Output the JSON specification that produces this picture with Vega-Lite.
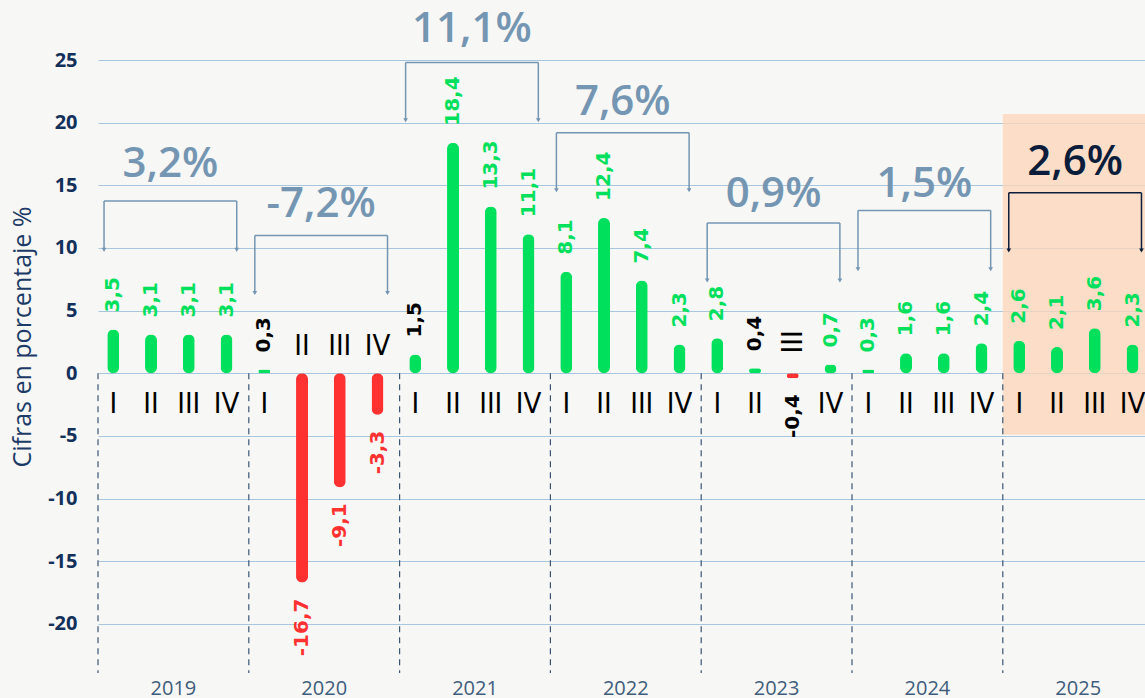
{
  "$schema": "https://vega.github.io/schema/vega-lite/v6.json",
  "width": 1047,
  "height": 673,
  "autosize": {"type": "none"},
  "padding": {"left": 98, "top": 0, "right": 0, "bottom": 25},
  "background": "#f7f7f5",
  "config": {
    "view": {"stroke": null},
    "locale": {"number": {"decimal": ",", "thousands": ".", "grouping": [3], "currency": ["", " €"], "minus": "-"}},
    "axisY": {"grid": true, "gridColor": "#a9c6df", "gridWidth": 1.2, "ticks": false, "domain": false, "labelFont": "Open Sans", "labelFontWeight": "bold", "labelFontSize": 20, "labelColor": "#12305a", "labelPadding": 21, "titleFont": "Open Sans", "titleFontSize": 25, "titleFontWeight": "normal", "titleColor": "#1c3b66", "titlePadding": 12, "tickCount": 10},
    "axisX": {"grid": false, "ticks": false, "domain": false, "labelFont": "Open Sans", "labelFontSize": 20, "labelColor": "#3f5d7c", "labelPadding": 5, "labelAngle": 0}
  },
  "datasets": {
    "quarters": [
      {"year": "2019", "qn": "I", "q": "2019-I", "value": 3.5},
      {"year": "2019", "qn": "II", "q": "2019-II", "value": 3.1},
      {"year": "2019", "qn": "III", "q": "2019-III", "value": 3.1},
      {"year": "2019", "qn": "IV", "q": "2019-IV", "value": 3.1},
      {"year": "2020", "qn": "I", "q": "2020-I", "value": 0.3},
      {"year": "2020", "qn": "II", "q": "2020-II", "value": -16.7},
      {"year": "2020", "qn": "III", "q": "2020-III", "value": -9.1},
      {"year": "2020", "qn": "IV", "q": "2020-IV", "value": -3.3},
      {"year": "2021", "qn": "I", "q": "2021-I", "value": 1.5},
      {"year": "2021", "qn": "II", "q": "2021-II", "value": 18.4},
      {"year": "2021", "qn": "III", "q": "2021-III", "value": 13.3},
      {"year": "2021", "qn": "IV", "q": "2021-IV", "value": 11.1},
      {"year": "2022", "qn": "I", "q": "2022-I", "value": 8.1},
      {"year": "2022", "qn": "II", "q": "2022-II", "value": 12.4},
      {"year": "2022", "qn": "III", "q": "2022-III", "value": 7.4},
      {"year": "2022", "qn": "IV", "q": "2022-IV", "value": 2.3},
      {"year": "2023", "qn": "I", "q": "2023-I", "value": 2.8},
      {"year": "2023", "qn": "II", "q": "2023-II", "value": 0.4},
      {"year": "2023", "qn": "III", "q": "2023-III", "value": -0.4},
      {"year": "2023", "qn": "IV", "q": "2023-IV", "value": 0.7},
      {"year": "2024", "qn": "I", "q": "2024-I", "value": 0.3},
      {"year": "2024", "qn": "II", "q": "2024-II", "value": 1.6},
      {"year": "2024", "qn": "III", "q": "2024-III", "value": 1.6},
      {"year": "2024", "qn": "IV", "q": "2024-IV", "value": 2.4},
      {"year": "2025", "qn": "I", "q": "2025-I", "value": 2.6},
      {"year": "2025", "qn": "II", "q": "2025-II", "value": 2.1},
      {"year": "2025", "qn": "III", "q": "2025-III", "value": 3.6},
      {"year": "2025", "qn": "IV", "q": "2025-IV", "value": 2.3}
    ],
    "years": [
      {"year": "2019", "growth": 0.032, "top": 13.75, "tip": 9.85, "lbl": 15.7},
      {"year": "2020", "growth": -0.072, "top": 11.0, "tip": 6.4, "lbl": 12.5},
      {"year": "2021", "growth": 0.111, "top": 24.8, "tip": 20.2, "lbl": 26.4},
      {"year": "2022", "growth": 0.076, "top": 19.2, "tip": 14.6, "lbl": 20.6},
      {"year": "2023", "growth": 0.009, "top": 12.0, "tip": 7.4, "lbl": 13.3},
      {"year": "2024", "growth": 0.015, "top": 13.0, "tip": 8.3, "lbl": 14.1},
      {"year": "2025", "growth": 0.026, "top": 14.4, "tip": 9.8, "lbl": 15.8}
    ]
  },
  "layer": [
    {
      "data": {"name": "years"},
      "layer": [
        {
          "transform": [{"filter": "datum.year == '2025'"}],
          "mark": {"type": "rect", "color": "#fdd6b8", "opacity": 0.75},
          "encoding": {
            "x": {"field": "year", "type": "nominal", "scale": {"type": "band", "range": [0, 1055.6], "paddingInner": 0, "paddingOuter": 0}, "axis": {"title": null}},
            "y": {"datum": 20.7, "type": "quantitative", "scale": {"domain": [-23.92, 29.79], "nice": false, "zero": false}, "axis": {"title": "Cifras en porcentaje %", "values": [-20, -15, -10, -5, 0, 5, 10, 15, 20, 25]}},
            "y2": {"datum": -4.9}
          }
        },
        {
          "mark": {"type": "rule", "strokeDash": [6, 5], "color": "#3a5675", "strokeWidth": 1.2},
          "encoding": {
            "x": {"field": "year", "type": "nominal", "bandPosition": 0, "scale": {"type": "band", "range": [0, 1055.6], "paddingInner": 0, "paddingOuter": 0}, "axis": {"title": null}},
            "y": {"datum": 0, "type": "quantitative", "scale": {"domain": [-23.92, 29.79], "nice": false, "zero": false}},
            "y2": {"datum": -23.92}
          }
        }
      ]
    },
    {
      "data": {"name": "quarters"},
      "encoding": {
        "x": {"field": "q", "type": "nominal", "scale": {"type": "band", "range": [-3.6, 1053.4], "paddingInner": 0, "paddingOuter": 0}, "axis": null}
      },
      "layer": [
        {
          "mark": {"type": "bar", "width": 12, "cornerRadius": 6},
          "encoding": {
            "y": {"field": "value", "type": "quantitative", "scale": {"domain": [-23.92, 29.79], "nice": false, "zero": false}},
            "color": {"condition": {"test": "datum.value < 0", "value": "#ff3131"}, "value": "#00e05c"}
          }
        },
        {
          "transform": [{"filter": "datum.value >= 0"}],
          "mark": {"type": "text", "angle": 270, "align": "left", "baseline": "middle", "dx": 17, "font": "DejaVu Sans", "fontSize": 20, "fontWeight": "bold"},
          "encoding": {
            "y": {"field": "value", "type": "quantitative", "scale": {"domain": [-23.92, 29.79], "nice": false, "zero": false}},
            "text": {"field": "value", "type": "quantitative", "format": ".1f"},
            "color": {"condition": {"test": "indexof(['2020-I','2021-I','2023-II','2023-III'], datum.q) >= 0", "value": "#000000"}, "value": "#00e05c"}
          }
        },
        {
          "transform": [{"filter": "datum.value < 0"}],
          "mark": {"type": "text", "angle": 270, "align": "right", "baseline": "middle", "dx": -16, "font": "DejaVu Sans", "fontSize": 20, "fontWeight": "bold"},
          "encoding": {
            "y": {"field": "value", "type": "quantitative", "scale": {"domain": [-23.92, 29.79], "nice": false, "zero": false}},
            "text": {"field": "value", "type": "quantitative", "format": ".1f"},
            "color": {"condition": {"test": "indexof(['2020-I','2021-I','2023-II','2023-III'], datum.q) >= 0", "value": "#000000"}, "value": "#ff3131"}
          }
        },
        {
          "transform": [{"filter": "datum.value >= 0"}],
          "mark": {"type": "text", "align": "center", "baseline": "alphabetic", "font": "DejaVu Sans Condensed", "fontSize": 29, "color": "#000000"},
          "encoding": {
            "y": {"datum": -3.19, "type": "quantitative", "scale": {"domain": [-23.92, 29.79], "nice": false, "zero": false}},
            "text": {"field": "qn", "type": "nominal"}
          }
        },
        {
          "transform": [{"filter": "datum.value < 0 && datum.q != '2023-III'"}],
          "mark": {"type": "text", "align": "center", "baseline": "alphabetic", "font": "DejaVu Sans Condensed", "fontSize": 29, "color": "#000000"},
          "encoding": {
            "y": {"datum": 1.46, "type": "quantitative", "scale": {"domain": [-23.92, 29.79], "nice": false, "zero": false}},
            "text": {"field": "qn", "type": "nominal"}
          }
        },
        {
          "transform": [{"filter": "datum.q == '2023-III'"}],
          "mark": {"type": "text", "angle": 270, "align": "center", "baseline": "middle", "font": "DejaVu Sans Condensed", "fontSize": 29, "color": "#000000"},
          "encoding": {
            "y": {"datum": 2.5, "type": "quantitative", "scale": {"domain": [-23.92, 29.79], "nice": false, "zero": false}},
            "text": {"field": "qn", "type": "nominal"}
          }
        }
      ]
    },
    {
      "data": {"name": "years"},
      "layer": [
        {
          "mark": {"type": "bar", "filled": false, "strokeWidth": 1.5},
          "encoding": {
            "x": {"field": "year", "type": "nominal", "scale": {"type": "band", "range": [0, 1049.5], "paddingInner": 0.12, "paddingOuter": 0.04}, "axis": null},
            "y": {"field": "top", "type": "quantitative", "scale": {"domain": [-23.92, 29.79], "nice": false, "zero": false}},
            "y2": {"field": "top"},
            "color": {"condition": {"test": "datum.year == '2025'", "value": "#0b1d3a"}, "value": "#7496b2"}
          }
        },
        {
          "mark": {"type": "rule", "strokeWidth": 1.5},
          "encoding": {
            "x": {"field": "year", "type": "nominal", "bandPosition": 0, "scale": {"type": "band", "range": [0, 1049.5], "paddingInner": 0.12, "paddingOuter": 0.04}, "axis": null},
            "y": {"field": "top", "type": "quantitative", "scale": {"domain": [-23.92, 29.79], "nice": false, "zero": false}},
            "y2": {"field": "tip"},
            "color": {"condition": {"test": "datum.year == '2025'", "value": "#0b1d3a"}, "value": "#7496b2"}
          }
        },
        {
          "mark": {"type": "rule", "strokeWidth": 1.5},
          "encoding": {
            "x": {"field": "year", "type": "nominal", "bandPosition": 1, "scale": {"type": "band", "range": [0, 1049.5], "paddingInner": 0.12, "paddingOuter": 0.04}, "axis": null},
            "y": {"field": "top", "type": "quantitative", "scale": {"domain": [-23.92, 29.79], "nice": false, "zero": false}},
            "y2": {"field": "tip"},
            "color": {"condition": {"test": "datum.year == '2025'", "value": "#0b1d3a"}, "value": "#7496b2"}
          }
        },
        {
          "mark": {"type": "point", "shape": "triangle-down", "filled": true, "size": 22, "opacity": 1},
          "encoding": {
            "x": {"field": "year", "type": "nominal", "bandPosition": 0, "scale": {"type": "band", "range": [0, 1049.5], "paddingInner": 0.12, "paddingOuter": 0.04}, "axis": null},
            "y": {"field": "tip", "type": "quantitative", "scale": {"domain": [-23.92, 29.79], "nice": false, "zero": false}},
            "color": {"condition": {"test": "datum.year == '2025'", "value": "#0b1d3a"}, "value": "#7496b2"}
          }
        },
        {
          "mark": {"type": "point", "shape": "triangle-down", "filled": true, "size": 22, "opacity": 1},
          "encoding": {
            "x": {"field": "year", "type": "nominal", "bandPosition": 1, "scale": {"type": "band", "range": [0, 1049.5], "paddingInner": 0.12, "paddingOuter": 0.04}, "axis": null},
            "y": {"field": "tip", "type": "quantitative", "scale": {"domain": [-23.92, 29.79], "nice": false, "zero": false}},
            "color": {"condition": {"test": "datum.year == '2025'", "value": "#0b1d3a"}, "value": "#7496b2"}
          }
        },
        {
          "mark": {"type": "text", "align": "center", "baseline": "alphabetic", "font": "Open Sans", "fontSize": 42, "fontWeight": 600},
          "encoding": {
            "x": {"field": "year", "type": "nominal", "scale": {"type": "band", "range": [0, 1049.5], "paddingInner": 0.12, "paddingOuter": 0.04}, "axis": null},
            "y": {"field": "lbl", "type": "quantitative", "scale": {"domain": [-23.92, 29.79], "nice": false, "zero": false}},
            "text": {"field": "growth", "type": "quantitative", "format": ".1%"},
            "color": {"condition": {"test": "datum.year == '2025'", "value": "#0b1d3a"}, "value": "#7496b2"}
          }
        }
      ]
    }
  ],
  "resolve": {"scale": {"x": "independent"}, "axis": {"x": "independent"}}
}
